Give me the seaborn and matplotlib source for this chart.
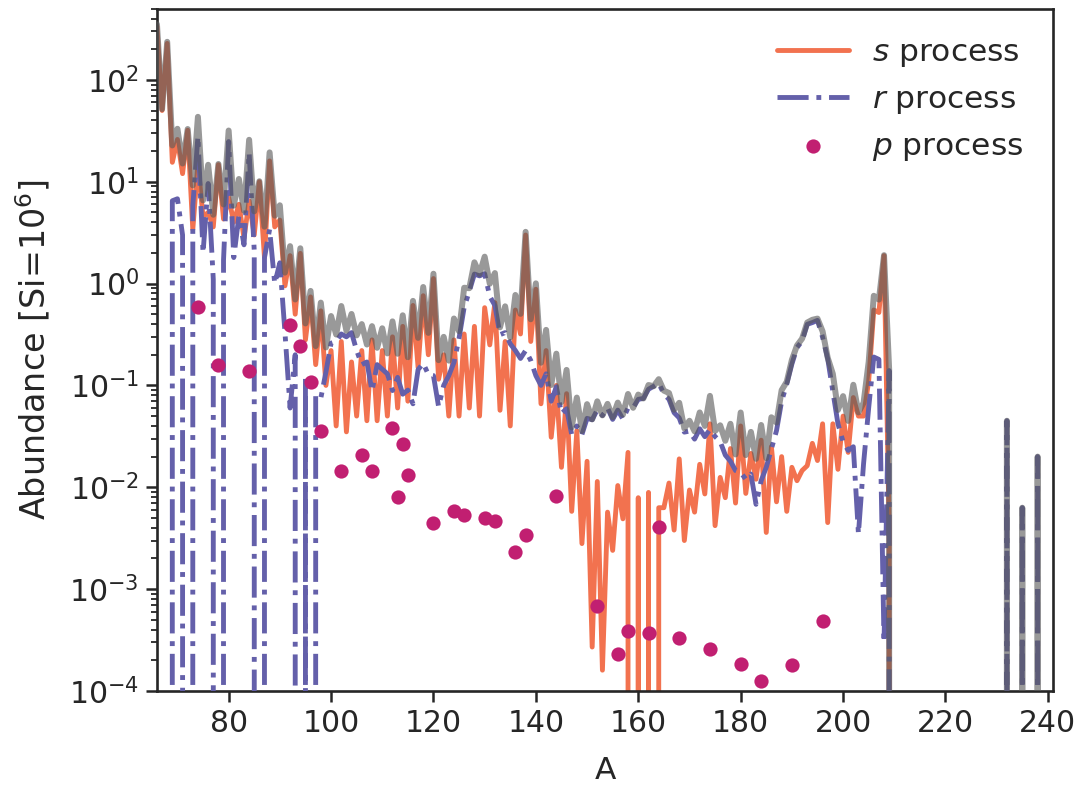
import matplotlib
matplotlib.use("Agg")
import matplotlib.pyplot as plt
import seaborn as sns
import pandas as pd

# ---------------- data ----------------
mass_number = list(range(66, 211))  # A = 66 ... 210

total_abund = [
    351.5, 51.7, 236.3, 22.7, 33.1, 15.1, 32.9, 9.2, 43.35, 6.56,
    14.66, 4.74, 14.93, 5.98, 31.8, 5.82, 10.64, 5.18, 25.8, 5.12,
    10.1, 3.62, 19.4, 4.64, 5.87, 1.28, 2.33, 0.698, 2.22, 0.406,
    0.847, 0.2435, 0.65, 0.236, 0.48, 0.316, 0.602, 0.344, 0.503, 0.31,
    0.40, 0.252, 0.382, 0.234, 0.364, 0.206, 0.4255, 0.2046, 0.488, 0.189,
    0.676, 0.293, 0.925, 0.328, 1.249, 0.177, 0.30, 0.175, 0.454, 0.34,
    0.91, 0.90, 1.617, 1.241, 1.837, 0.996, 1.268, 0.372, 0.598, 0.296,
    0.773, 0.504, 3.22, 0.446, 1.005, 0.167, 0.351, 0.101, 0.205, 0.0687,
    0.142, 0.0387, 0.076, 0.0357, 0.0655, 0.0465, 0.0698, 0.0508, 0.0659, 0.0488,
    0.0678, 0.0516, 0.0824, 0.0603, 0.0813, 0.0745, 0.1009, 0.0982, 0.1152, 0.0889,
    0.0843, 0.0576, 0.0675, 0.0378, 0.045, 0.0354, 0.0543, 0.040, 0.079, 0.0357,
    0.0406, 0.0286, 0.042, 0.021, 0.0542, 0.0207, 0.035, 0.019, 0.0409, 0.0193,
    0.0487, 0.0432, 0.0898, 0.1087, 0.178, 0.2466, 0.288, 0.4144, 0.441, 0.453,
    0.3395, 0.187, 0.130, 0.0574, 0.0785, 0.0448, 0.1015, 0.0543, 0.0675, 0.17,
    0.759, 0.696, 1.9, 0.144, 0,
]

s_process = [
    335, 50, 228, 15.5, 26, 12, 32, 3.4, 15, 4.5,
    5, 3.6, 14.7, 4.3, 7, 4.0, 6, 2.8, 6.5, 3.0,
    10.0, 1.8, 16, 3.6, 4.2, 0.95, 1.88, 0.5, 1.98, 0.28,
    0.74, 0.16, 0.54, 0.1, 0.22, 0.04, 0.27, 0.035, 0.17, 0.05,
    0.22, 0.045, 0.28, 0.045, 0.22, 0.05, 0.3, 0.06, 0.38, 0.07,
    0.61, 0.15, 0.76, 0.2, 1.12, 0.115, 0.2, 0.05, 0.28, 0.05,
    0.32, 0.06, 0.38, 0.05, 0.58, 0.25, 0.65, 0.057, 0.27, 0.04,
    0.55, 0.32, 3.0, 0.27, 0.88, 0.066, 0.22, 0.031, 0.1, 0.0157,
    0.083, 0.0058, 0.036, 0.0028, 0.018, 0.00027, 0.0114, 0.00016, 0.0057, 0.0024,
    0.0104, 0.0049, 0.022, 0, 0.0079, 0, 0.0089, 0, 0.0063, 0.0063,
    0.011, 0.0038, 0.019, 0.003, 0.0094, 0.0057, 0.0168, 0.0086, 0.042, 0.0042,
    0.0125, 0.0079, 0.024, 0.007, 0.04, 0.0087, 0.0215, 0.012, 0.029, 0.0036,
    0.025, 0.0072, 0.02, 0.0058, 0.0157, 0.0116, 0.0146, 0.0163, 0.027, 0.0183,
    0.042, 0.0045, 0.042, 0.015, 0.05, 0.022, 0.076, 0.05, 0.05, 0.11,
    0.55, 0.52, 1.88, 0.004, 0,
]

r_process = [
    0, 0, 0, 6.5, 6.8, 3.0, 0, 5.8, 27.8, 2.0,
    9.6, 1.1, 0, 1.7, 24.8, 1.8, 4.6, 2.4, 19.2, 2.1,
    0, 1.8, 3.4, 1.0, 1.6, 0.33, 0.06, 0.2, 0, 0.12,
    0, 0.08, 0.075, 0.135, 0.26, 0.27, 0.32, 0.30, 0.33, 0.22,
    0.16, 0.17, 0.088, 0.16, 0.144, 0.13, 0.089, 0.12, 0.082, 0.09,
    0.066, 0.143, 0.165, 0.128, 0.125, 0.062, 0.1, 0.125, 0.168, 0.29,
    0.585, 0.84, 1.24, 1.19, 1.25, 0.75, 0.61, 0.315, 0.33, 0.256,
    0.22, 0.184, 0.22, 0.176, 0.125, 0.10, 0.13, 0.07, 0.097, 0.053,
    0.059, 0.033, 0.04, 0.033, 0.0475, 0.046, 0.0577, 0.0506, 0.060, 0.0464,
    0.0572, 0.0467, 0.060, 0.0603, 0.073, 0.0745, 0.0917, 0.0982, 0.105, 0.0826,
    0.073, 0.054, 0.048, 0.0348, 0.0356, 0.0297, 0.0375, 0.0314, 0.037, 0.0315,
    0.0281, 0.0207, 0.018, 0.0146, 0.014, 0.012, 0.0135, 0.0068, 0.0116, 0.0157,
    0.0237, 0.036, 0.07, 0.103, 0.162, 0.235, 0.273, 0.398, 0.414, 0.435,
    0.297, 0.1825, 0.088, 0.042, 0.028, 0.023, 0.025, 0.0035, 0.017, 0.06,
    0.19, 0.18, 0.0003, 0.14, 0,
]

# actinides (Th-232, U-235, U-238)
actinide_A = [231, 232, 233, 234, 235, 236, 237, 238, 239]
actinide_total = [0, 0.045, 0, 0, 0.0063, 0, 0, 0.020, 0]
actinide_r = [0, 0.045, 0, 0, 0.0063, 0, 0, 0.020, 0]
actinide_s = [0, 0, 0, 0, 0, 0, 0, 0, 0]

# p-only isotopes
p_A = [74, 78, 84, 92, 94, 96, 98, 102, 106, 108, 112, 113, 114, 115, 120,
       124, 126, 130, 132, 136, 138, 144, 152, 156, 158, 162, 164, 168, 174,
       180, 184, 190, 196]
p_abund = [0.586, 0.16, 0.138, 0.39, 0.242, 0.107, 0.036, 0.0146, 0.0206,
           0.0146, 0.038, 0.0081, 0.0263, 0.0131, 0.0045, 0.0059, 0.0053,
           0.0050, 0.0047, 0.0023, 0.0034, 0.0083, 0.00069, 0.00023, 0.00039,
           0.00037, 0.0041, 0.00033, 0.00026, 0.000186, 0.000126, 0.000178,
           0.00049]

# ---------------- figure ----------------
sns.set_theme(style="ticks")
plt.rcParams["font.family"] = ["DejaVu Sans"]
plt.rcParams["mathtext.fontset"] = "dejavusans"

col_s = "#F2724F"
col_r = "#6460AA"
col_p = "#C11F71"
col_tot = "#5a5a5a"

df = pd.DataFrame({
    "A": mass_number + actinide_A,
    "total": total_abund + actinide_total,
    "s": s_process + actinide_s,
    "r": r_process + actinide_r,
})
dfp = pd.DataFrame({"A": p_A, "p": p_abund})

fig = plt.figure(figsize=(10.81, 7.87), dpi=100)
ax = fig.add_axes([0.1452, 0.122, 0.8289, 0.867])

sns.lineplot(data=df, x="A", y="s", ax=ax, color=col_s, lw=3.5,
             estimator=None, sort=False, label="$s$ process", zorder=2)
sns.lineplot(data=df, x="A", y="r", ax=ax, color=col_r, lw=3.5,
             linestyle="-.", estimator=None, sort=False,
             label="$r$ process", zorder=3)
sns.lineplot(data=df, x="A", y="total", ax=ax, color=col_tot, lw=4.3,
             alpha=0.62, estimator=None, sort=False, legend=False, zorder=4)
sns.scatterplot(data=dfp, x="A", y="p", ax=ax, color=col_p, s=105,
                linewidth=0, label="$p$ process", zorder=5)

ax.set_yscale("log", nonpositive="clip")
ax.set_ylim(1e-4, 500)
ax.set_xlim(66, 241)
ax.set_xticks([80, 100, 120, 140, 160, 180, 200, 220, 240])

fs = 21.5
ax.set_xlabel("A", fontsize=22.5, color="#262626", labelpad=13)
ax.set_ylabel("Abundance [Si=10$^6$]", fontsize=24, color="#262626",
              labelpad=12)
ax.tick_params(axis="both", which="major", labelsize=fs, length=8,
               width=1.8, color="#262626", labelcolor="#262626", pad=5)
ax.tick_params(axis="y", which="minor", length=4.5, width=1.3,
               color="#262626")
for sp in ax.spines.values():
    sp.set_linewidth(1.9)
    sp.set_color("#262626")

handles, labels = ax.get_legend_handles_labels()
ax.legend(handles, labels, loc="upper right", frameon=False, fontsize=22.5,
          handlelength=2.3, handletextpad=0.75, labelspacing=0.5,
          borderaxespad=0.55)

fig.savefig("out.png", dpi=100)
